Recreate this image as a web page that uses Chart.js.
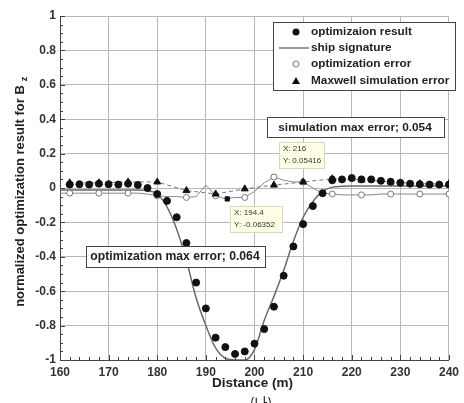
<!DOCTYPE html>
<html>
<head>
<meta charset="utf-8">
<script src="https://cdn.jsdelivr.net/npm/chart.js@4.4.0/dist/chart.umd.min.js"></script>
<style>
  body { margin: 0; background: #fff; }
</style>
</head>
<body>
<canvas id="myChart" width="464" height="403"></canvas>
<script>
// optimization result (filled dots), every 2 m
let distance = [162, 164, 166, 168, 170, 172, 174, 176, 178, 180,
    182, 184, 186, 188, 190, 192, 194, 196, 198, 200,
    202, 204, 206, 208, 210, 212, 214, 216, 218, 220,
    222, 224, 226, 228, 230, 232, 234, 236, 238, 240];
let result = [0.02, 0.022, 0.02, 0.025, 0.022, 0.02, 0.025, 0.018, 0.0, -0.035,
    -0.075, -0.17, -0.32, -0.55, -0.70, -0.87, -0.925, -0.965, -0.95, -0.905,
    -0.82, -0.69, -0.51, -0.34, -0.21, -0.105, -0.03, 0.045, 0.05, 0.058,
    0.05, 0.05, 0.042, 0.036, 0.03, 0.025, 0.022, 0.02, 0.02, 0.02];

// ship signature and optimization error lines
let lineX = [160, 162, 164, 166, 168, 170, 172, 174, 176, 178,
    180, 182, 184, 186, 188, 190, 192, 194, 196, 198,
    200, 202, 204, 206, 208, 210, 212, 214, 216, 218,
    220, 222, 224, 226, 228, 230, 232, 234, 236, 238, 240];
let signature = [-0.012, -0.012, -0.012, -0.012, -0.012, -0.012, -0.012, -0.012, -0.012, -0.016,
    -0.035, -0.11, -0.24, -0.42, -0.64, -0.80, -0.93, -0.99, -1.0, -1.0,
    -0.94, -0.77, -0.63, -0.48, -0.31, -0.17, -0.08, -0.02, 0.005, 0.01,
    0.012, 0.012, 0.012, 0.012, 0.012, 0.012, 0.012, 0.012, 0.012, 0.012, 0.012];
let optError = [-0.03, -0.03, -0.03, -0.03, -0.03, -0.03, -0.03, -0.03, -0.03, -0.035,
    -0.045, -0.05, -0.05, -0.055, -0.05, 0.017, -0.045, -0.063, -0.055, -0.055,
    -0.02, 0.03, 0.064, 0.045, 0.035, 0.035, 0.0, -0.03, -0.035, -0.04,
    -0.04, -0.04, -0.04, -0.035, -0.035, -0.035, -0.035, -0.035, -0.035, -0.035, -0.035];

// Maxwell simulation error (triangles), every 6 m
let maxwellX = [162, 168, 174, 180, 186, 192, 198, 204, 210, 216, 222, 228, 234, 240];
let maxwellError = [0.03, 0.03, 0.035, 0.035, -0.015, -0.035, -0.005, 0.017, 0.035, 0.054, 0.047, 0.035, 0.025, 0.025];

// data tips
let tipX = [194.4, 216];
let tipY = [-0.06352, 0.05416];
let tipText = [['X: 194.4', 'Y: -0.06352'], ['X: 216', 'Y: 0.05416']];

let xTicks = [160, 170, 180, 190, 200, 210, 220, 230, 240];
let yTicks = [-1, -0.8, -0.6, -0.4, -0.2, 0, 0.2, 0.4, 0.6, 0.8, 1];

let legendLabels = ['optimizaion result', 'ship signature', 'optimization error', 'Maxwell simulation error'];

const FONT = "'Liberation Sans', Arial, sans-serif";

function pts(xs, ys) {
    return xs.map((v, i) => ({ x: v, y: ys[i] }));
}

function box(ctx, x, y, w, h, fill, stroke) {
    ctx.fillStyle = fill;
    ctx.fillRect(x, y, w, h);
    ctx.strokeStyle = stroke;
    ctx.lineWidth = 1;
    ctx.strokeRect(x + 0.5, y + 0.5, w, h);
}

const extras = {
    id: 'extras',
    afterDraw(chart) {
        const ctx = chart.ctx;
        const xs = chart.scales.x;
        const ys = chart.scales.y;
        const area = chart.chartArea;
        ctx.save();

        // minor + major ticks, inside the axes
        ctx.strokeStyle = '#444';
        ctx.lineWidth = 1;
        ctx.beginPath();
        for (let v = 160; v <= 240; v += 2) {
            let px = Math.round(xs.getPixelForValue(v)) + 0.5;
            let len = (v % 10 === 0) ? 5 : 3;
            ctx.moveTo(px, area.bottom);
            ctx.lineTo(px, area.bottom - len);
        }
        for (let k = -20; k <= 20; k++) {
            let v = k * 0.05;
            let py = Math.round(ys.getPixelForValue(v)) + 0.5;
            let len = (k % 4 === 0) ? 5 : 3;
            ctx.moveTo(area.left, py);
            ctx.lineTo(area.left + len, py);
        }
        ctx.stroke();

        // axis titles
        ctx.fillStyle = '#222';
        ctx.font = 'bold 13.5px ' + FONT;
        ctx.textAlign = 'center';
        ctx.textBaseline = 'middle';
        ctx.fillText('Distance (m)', (area.left + area.right) / 2 - 2, 383);

        ctx.save();
        ctx.translate(20, 192);
        ctx.rotate(-Math.PI / 2);
        ctx.font = 'bold 13px ' + FONT;
        let main = 'normalized optimization result for B';
        let w = ctx.measureText(main).width;
        ctx.textAlign = 'left';
        ctx.fillText(main, -w / 2 - 4, 0);
        ctx.font = 'bold 9px ' + FONT;
        ctx.fillText('z', w / 2, 5);
        ctx.restore();

        ctx.font = '14px "Noto Sans CJK KR"';
        ctx.textAlign = 'center';
        ctx.textBaseline = 'top';
        ctx.fillText('(나)', 261, 396);

        // legend
        box(ctx, 273, 22, 182, 68, '#fff', '#444');
        let rows = [32, 48, 64, 81];
        ctx.font = 'bold 11.8px ' + FONT;
        ctx.textAlign = 'left';
        ctx.textBaseline = 'middle';
        legendLabels.forEach((t, i) => {
            ctx.fillStyle = '#222';
            ctx.fillText(t, 311, rows[i]);
        });
        ctx.fillStyle = '#111';
        ctx.beginPath();
        ctx.arc(296, rows[0], 3.5, 0, Math.PI * 2);
        ctx.fill();
        ctx.strokeStyle = '#777';
        ctx.lineWidth = 1.5;
        ctx.beginPath();
        ctx.moveTo(279, rows[1]);
        ctx.lineTo(309, rows[1]);
        ctx.stroke();
        ctx.strokeStyle = '#777';
        ctx.lineWidth = 1;
        ctx.fillStyle = '#fff';
        ctx.beginPath();
        ctx.arc(296, rows[2], 3, 0, Math.PI * 2);
        ctx.fill();
        ctx.stroke();
        ctx.fillStyle = '#111';
        ctx.beginPath();
        ctx.moveTo(296, rows[3] - 4);
        ctx.lineTo(300, rows[3] + 3);
        ctx.lineTo(292, rows[3] + 3);
        ctx.closePath();
        ctx.fill();

        // text boxes
        ctx.font = 'bold 11.8px ' + FONT;
        box(ctx, 267, 117, 177, 20, '#fff', '#444');
        ctx.fillStyle = '#222';
        ctx.textAlign = 'center';
        ctx.fillText('simulation max error; 0.054', 355, 128);
        box(ctx, 86, 246, 179, 21, '#fff', '#444');
        ctx.fillStyle = '#222';
        ctx.font = 'bold 12.2px ' + FONT;
        ctx.fillText('optimization max error; 0.064', 175, 257);

        // data tips
        let offsets = [[3, 7], [-53, -37]];
        ctx.font = '8px ' + FONT;
        ctx.textAlign = 'left';
        tipX.forEach((v, i) => {
            let px = xs.getPixelForValue(v);
            let py = ys.getPixelForValue(tipY[i]);
            let bx = Math.round(px + offsets[i][0]);
            let by = Math.round(py + offsets[i][1]);
            box(ctx, bx, by, i === 0 ? 52 : 45, 26, '#ffffe6', '#d8d8c0');
            ctx.fillStyle = '#333';
            ctx.fillText(tipText[i][0], bx + 4, by + 7);
            ctx.fillText(tipText[i][1], bx + 4, by + 19);
        });

        ctx.restore();
    }
};

let ctx = document.getElementById('myChart').getContext('2d');

let myChart = new Chart(ctx, {
    type: 'scatter',
    data: {
        datasets: [{
            label: 'data tip',
            data: pts(tipX, tipY),
            pointStyle: 'rect',
            pointRadius: 3,
            backgroundColor: '#111',
            borderColor: '#111',
            showLine: false
        },
        {
            label: legendLabels[0],
            data: pts(distance, result),
            pointStyle: 'circle',
            pointRadius: 3.5,
            backgroundColor: '#111',
            borderColor: '#111',
            showLine: false
        },
        {
            label: legendLabels[3],
            data: pts(maxwellX, maxwellError),
            showLine: true,
            borderColor: '#777',
            borderWidth: 1,
            borderDash: [4, 3],
            pointStyle: 'triangle',
            pointRadius: 4,
            pointBackgroundColor: '#111',
            pointBorderColor: '#111'
        },
        {
            label: legendLabels[2],
            data: pts(lineX, optError),
            showLine: true,
            borderColor: '#888',
            borderWidth: 1,
            pointRadius: c => ((lineX[c.dataIndex] - 162) % 6 === 0) ? 3 : 0,
            pointBackgroundColor: '#fff',
            pointBorderColor: '#777',
            pointBorderWidth: 1
        },
        {
            label: legendLabels[1],
            data: pts(lineX, signature),
            showLine: true,
            cubicInterpolationMode: 'monotone',
            borderColor: '#6a6a6a',
            borderWidth: 1.5,
            pointRadius: 0
        }]
    },
    options: {
        responsive: false,
        animation: false,
        events: [],
        layout: { padding: { left: 0, top: 16, right: 4, bottom: 0 } },
        plugins: {
            legend: { display: false },
            tooltip: { enabled: false }
        },
        scales: {
            x: {
                type: 'linear',
                min: 160,
                max: 240,
                afterBuildTicks: s => { s.ticks = xTicks.map(v => ({ value: v })); },
                afterFit: s => { s.height = 43; },
                grid: { color: '#b8b8b8', borderDash: [1, 2], drawTicks: false, lineWidth: 1 },
                border: { display: true, color: '#444', width: 1 },
                ticks: {
                    padding: 5,
                    maxRotation: 0,
                    color: '#333',
                    font: { family: FONT, size: 12, weight: 'bold' }
                }
            },
            y: {
                type: 'linear',
                min: -1,
                max: 1,
                afterBuildTicks: s => { s.ticks = yTicks.map(v => ({ value: v })); },
                afterFit: s => { s.width = 60; },
                grid: { color: '#b8b8b8', borderDash: [1, 2], drawTicks: false, lineWidth: 1 },
                border: { display: true, color: '#444', width: 1 },
                ticks: {
                    padding: 4,
                    color: '#333',
                    font: { family: FONT, size: 12, weight: 'bold' },
                    callback: v => String(Math.round(v * 10) / 10)
                }
            }
        }
    },
    plugins: [extras]
});
</script>
</body>
</html>
